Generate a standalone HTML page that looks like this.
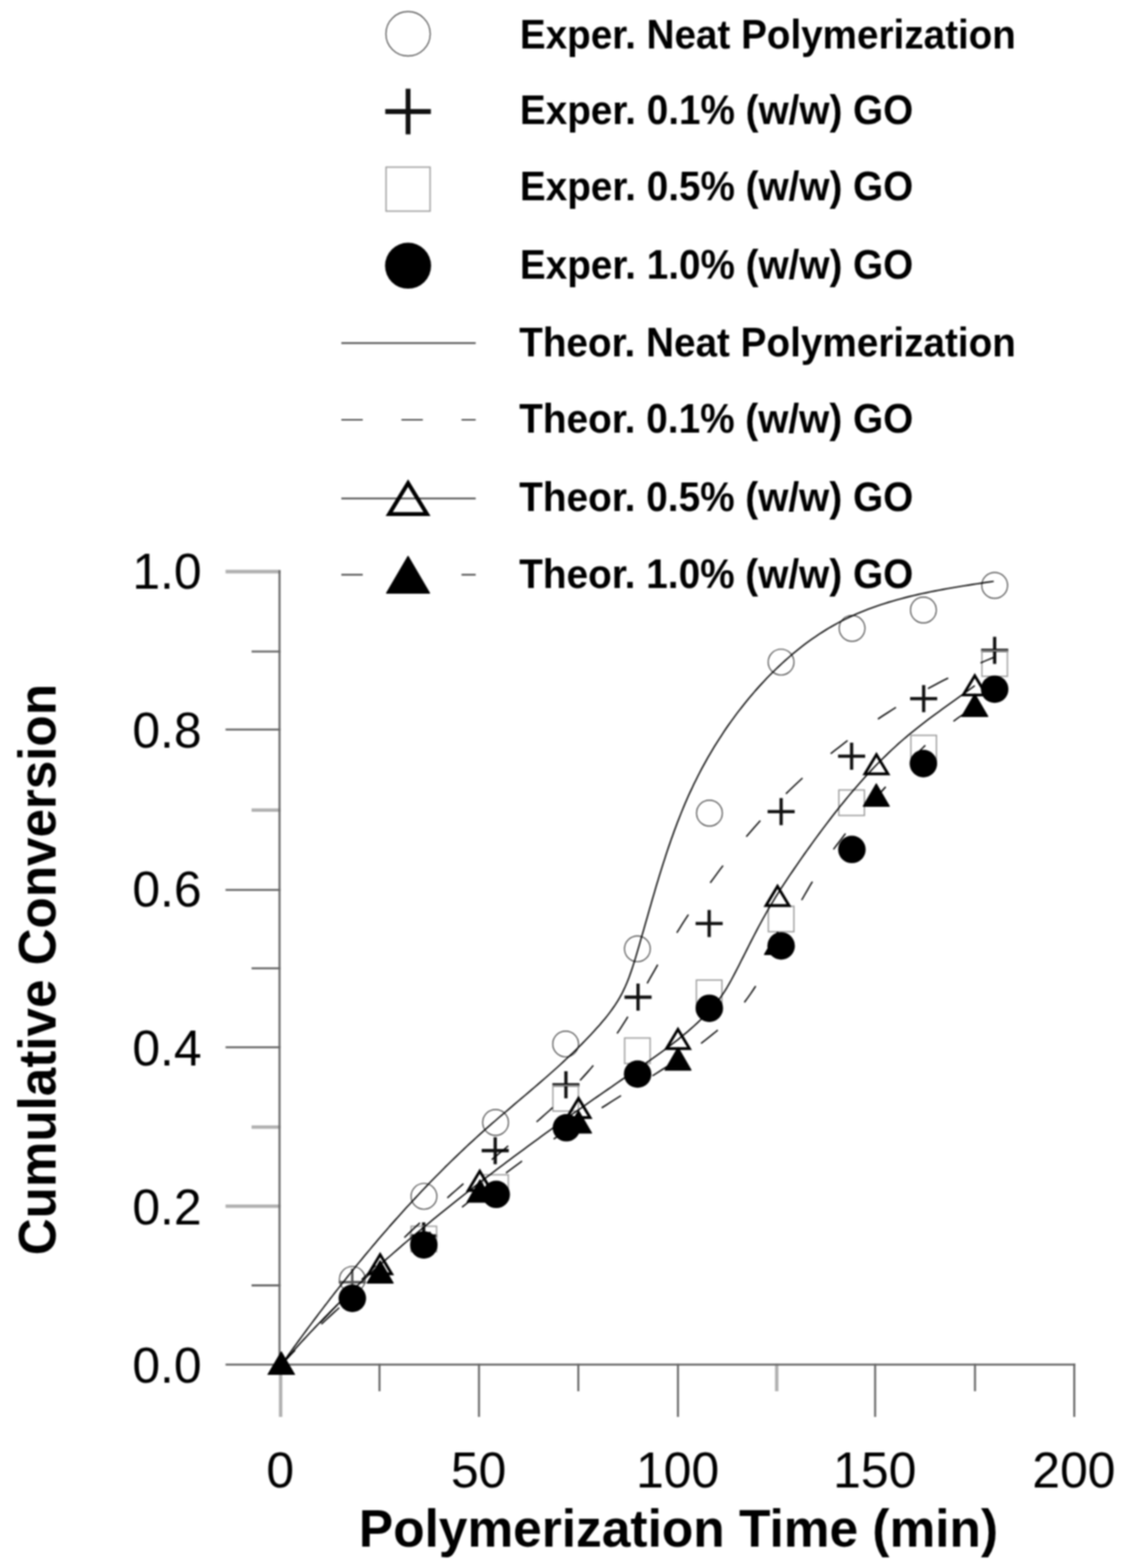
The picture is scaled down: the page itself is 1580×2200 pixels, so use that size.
<!DOCTYPE html>
<html lang="en"><head><meta charset="utf-8"><title>Cumulative Conversion vs Polymerization Time</title>
<style>
html,body{margin:0;padding:0;background:#fff;}
body{width:1580px;height:2200px;overflow:hidden;}
svg{display:block;filter:blur(1px);}
text{font-family:"Liberation Sans",sans-serif;fill:#000;}
.tick{font-size:70px;}
.leg{font-size:58px;font-weight:bold;}
.ttl{font-size:74px;font-weight:bold;}
</style></head><body>
<svg width="1580" height="2200" viewBox="0 0 1580 2200" role="img" aria-label="Cumulative conversion versus polymerization time">
<rect width="1580" height="2200" fill="#fff"/>
<g fill="none" stroke-linecap="butt">
<line x1="353" y1="1803.5" x2="393.6" y2="1803.5" stroke="#666" stroke-width="2.8"/>
<line x1="316.5" y1="1692.3" x2="393.6" y2="1692.3" stroke="#b0b0b0" stroke-width="4.8"/>
<line x1="353" y1="1581.3" x2="393.6" y2="1581.3" stroke="#b0b0b0" stroke-width="4.8"/>
<line x1="316.5" y1="1469.4" x2="393.6" y2="1469.4" stroke="#666" stroke-width="2.8"/>
<line x1="353" y1="1358.7" x2="393.6" y2="1358.7" stroke="#666" stroke-width="2.8"/>
<line x1="316.5" y1="1248.6" x2="393.6" y2="1248.6" stroke="#666" stroke-width="2.8"/>
<line x1="353" y1="1136.6" x2="393.6" y2="1136.6" stroke="#b0b0b0" stroke-width="4.8"/>
<line x1="316.5" y1="1023.6" x2="393.6" y2="1023.6" stroke="#666" stroke-width="2.8"/>
<line x1="353" y1="914.1" x2="393.6" y2="914.1" stroke="#666" stroke-width="2.8"/>
<line x1="316.5" y1="802.0" x2="393.6" y2="802.0" stroke="#b0b0b0" stroke-width="4.8"/>
<line x1="393.8" y1="1913.3" x2="393.8" y2="1988" stroke="#b0b0b0" stroke-width="4.8"/>
<line x1="532.5" y1="1913.3" x2="532.5" y2="1952" stroke="#666" stroke-width="2.8"/>
<line x1="672.1" y1="1913.3" x2="672.1" y2="1988" stroke="#666" stroke-width="2.8"/>
<line x1="811.5" y1="1913.3" x2="811.5" y2="1952" stroke="#666" stroke-width="2.8"/>
<line x1="951.3" y1="1913.3" x2="951.3" y2="1988" stroke="#666" stroke-width="2.8"/>
<line x1="1089.9" y1="1913.3" x2="1089.9" y2="1952" stroke="#b0b0b0" stroke-width="4.8"/>
<line x1="1228.0" y1="1913.3" x2="1228.0" y2="1988" stroke="#666" stroke-width="2.8"/>
<line x1="1368.1" y1="1913.3" x2="1368.1" y2="1952" stroke="#666" stroke-width="2.8"/>
<line x1="1507.4" y1="1913.3" x2="1507.4" y2="1988" stroke="#666" stroke-width="2.8"/>
<line x1="392.2" y1="800.0" x2="392.2" y2="1914.7" stroke="#666" stroke-width="2.8"/>
<line x1="316.5" y1="1914.7" x2="1509" y2="1914.7" stroke="#666" stroke-width="2.8"/>
</g>
<text class="tick" x="283" y="1940.0" text-anchor="end">0.0</text>
<text class="tick" x="283" y="1717.5" text-anchor="end">0.2</text>
<text class="tick" x="283" y="1494.6" text-anchor="end">0.4</text>
<text class="tick" x="283" y="1271.6" text-anchor="end">0.6</text>
<text class="tick" x="283" y="1048.6" text-anchor="end">0.8</text>
<text class="tick" x="283" y="826.0" text-anchor="end">1.0</text>
<text class="tick" x="393.3" y="2087" text-anchor="middle">0</text>
<text class="tick" x="671.6" y="2087" text-anchor="middle">50</text>
<text class="tick" x="950.8" y="2087" text-anchor="middle">100</text>
<text class="tick" x="1227.5" y="2087" text-anchor="middle">150</text>
<text class="tick" x="1506.9" y="2087" text-anchor="middle">200</text>
<text class="ttl" x="503.5" y="2169.6" textLength="897" lengthAdjust="spacingAndGlyphs">Polymerization Time (min)</text>
<text class="ttl" transform="translate(77.5,1360.5) rotate(-90) scale(0.970,1)" text-anchor="middle">Cumulative Conversion</text>
<text class="leg" x="729.5" y="67.8" textLength="696.0" lengthAdjust="spacingAndGlyphs">Exper. Neat Polymerization</text>
<text class="leg" x="729.5" y="174.4" textLength="552.0" lengthAdjust="spacingAndGlyphs">Exper. 0.1% (w/w) GO</text>
<text class="leg" x="729.5" y="281.0" textLength="552.0" lengthAdjust="spacingAndGlyphs">Exper. 0.5% (w/w) GO</text>
<text class="leg" x="729.5" y="391.4" textLength="552.0" lengthAdjust="spacingAndGlyphs">Exper. 1.0% (w/w) GO</text>
<text class="leg" x="728.5" y="500.2" textLength="697.0" lengthAdjust="spacingAndGlyphs">Theor. Neat Polymerization</text>
<text class="leg" x="728.5" y="607.4" textLength="553.0" lengthAdjust="spacingAndGlyphs">Theor. 0.1% (w/w) GO</text>
<text class="leg" x="728.5" y="717.0" textLength="553.0" lengthAdjust="spacingAndGlyphs">Theor. 0.5% (w/w) GO</text>
<text class="leg" x="728.5" y="825.0" textLength="553.0" lengthAdjust="spacingAndGlyphs">Theor. 1.0% (w/w) GO</text>
<circle cx="572.6" cy="47.4" r="31.1" fill="none" stroke="#3c3c3c" stroke-width="1.4"/>
<path d="M540.6 156.5H604.6M572.6 124.5V188.5" stroke="#111" stroke-width="6.8" fill="none"/>
<rect x="541.7" y="234.5" width="61.8" height="61.8" fill="none" stroke="#999" stroke-width="1.8"/>
<circle cx="572.6" cy="372.8" r="32.3" fill="#000"/>
<line x1="479" y1="481.3" x2="667.5" y2="481.3" stroke="#444" stroke-width="2.2"/>
<line x1="479" y1="589.0" x2="667.5" y2="589.0" stroke="#444" stroke-width="2.2" stroke-dasharray="30 54.3"/>
<line x1="479" y1="699.4" x2="667.5" y2="699.4" stroke="#444" stroke-width="2.2"/>
<path d="M572.6 677.8L599.1 721.2H546.1Z" fill="none" stroke="#000" stroke-width="5.6" stroke-linejoin="miter"/>
<path d="M479 806.4H509M647.6 806.4H667.5" stroke="#444" stroke-width="2.2" fill="none"/>
<path d="M572.6 780.6L602.7 832.2H542.5Z" fill="#000" stroke="#000" stroke-width="1.6" stroke-linejoin="round"/>
<circle cx="494.4" cy="1795.0" r="18.1" fill="none" stroke="#3c3c3c" stroke-width="1.4"/>
<circle cx="594.9" cy="1678.5" r="18.1" fill="none" stroke="#3c3c3c" stroke-width="1.4"/>
<circle cx="695.4" cy="1574.9" r="18.1" fill="none" stroke="#3c3c3c" stroke-width="1.4"/>
<circle cx="793.7" cy="1464.8" r="18.1" fill="none" stroke="#3c3c3c" stroke-width="1.4"/>
<circle cx="894.4" cy="1331.3" r="18.1" fill="none" stroke="#3c3c3c" stroke-width="1.4"/>
<circle cx="995.5" cy="1140.9" r="18.1" fill="none" stroke="#3c3c3c" stroke-width="1.4"/>
<circle cx="1096.0" cy="929.0" r="18.1" fill="none" stroke="#3c3c3c" stroke-width="1.4"/>
<circle cx="1195.6" cy="881.6" r="18.1" fill="none" stroke="#3c3c3c" stroke-width="1.4"/>
<circle cx="1295.7" cy="855.9" r="18.1" fill="none" stroke="#3c3c3c" stroke-width="1.4"/>
<circle cx="1395.7" cy="821.4" r="18.1" fill="none" stroke="#3c3c3c" stroke-width="1.4"/>
<path d="M475.3 1799.0H513.3M494.3 1780.0V1818.0" stroke="#555" stroke-width="3.4" fill="none"/>
<path d="M575.5 1734.0H613.5M594.5 1715.0V1753.0" stroke="#111" stroke-width="4.6" fill="none"/>
<path d="M675.9 1614.4H713.9M694.9 1595.4V1633.4" stroke="#111" stroke-width="4.6" fill="none"/>
<path d="M775.1 1522.1H813.1M794.1 1503.1V1541.1" stroke="#111" stroke-width="4.6" fill="none"/>
<path d="M876.3 1399.1H914.3M895.3 1380.1V1418.1" stroke="#111" stroke-width="4.6" fill="none"/>
<path d="M976.1 1295.8H1014.1M995.1 1276.8V1314.8" stroke="#111" stroke-width="4.6" fill="none"/>
<path d="M1077.1 1138.7H1115.1M1096.1 1119.7V1157.7" stroke="#111" stroke-width="4.6" fill="none"/>
<path d="M1176.0 1061.0H1214.0M1195.0 1042.0V1080.0" stroke="#111" stroke-width="4.6" fill="none"/>
<path d="M1277.1 980.3H1315.1M1296.1 961.3V999.3" stroke="#111" stroke-width="4.6" fill="none"/>
<path d="M1376.7 912.5H1414.7M1395.7 893.5V931.5" stroke="#111" stroke-width="4.6" fill="none"/>
<rect x="576.8" y="1720.5" width="35.8" height="35.8" fill="none" stroke="#999" stroke-width="1.8"/>
<rect x="677.5" y="1648.3" width="35.8" height="35.8" fill="none" stroke="#999" stroke-width="1.8"/>
<rect x="775.8" y="1523.1" width="35.8" height="35.8" fill="none" stroke="#999" stroke-width="1.8"/>
<rect x="876.5" y="1456.4" width="35.8" height="35.8" fill="none" stroke="#999" stroke-width="1.8"/>
<rect x="977.2" y="1375.1" width="35.8" height="35.8" fill="none" stroke="#999" stroke-width="1.8"/>
<rect x="1078.2" y="1271.5" width="35.8" height="35.8" fill="none" stroke="#999" stroke-width="1.8"/>
<rect x="1177.1" y="1108.4" width="35.8" height="35.8" fill="none" stroke="#999" stroke-width="1.8"/>
<rect x="1278.2" y="1031.7" width="35.8" height="35.8" fill="none" stroke="#999" stroke-width="1.8"/>
<rect x="1377.8" y="913.1" width="35.8" height="35.8" fill="none" stroke="#999" stroke-width="1.8"/>
<circle cx="494.4" cy="1821.6" r="19.3" fill="#000"/>
<circle cx="594.7" cy="1746.7" r="19.3" fill="#000"/>
<circle cx="696.3" cy="1675.8" r="19.3" fill="#000"/>
<circle cx="794.8" cy="1582.3" r="19.3" fill="#000"/>
<circle cx="894.7" cy="1507.0" r="19.3" fill="#000"/>
<circle cx="995.3" cy="1414.7" r="19.3" fill="#000"/>
<circle cx="1096.1" cy="1327.2" r="19.3" fill="#000"/>
<circle cx="1195.4" cy="1191.8" r="19.3" fill="#000"/>
<circle cx="1295.7" cy="1071.4" r="19.3" fill="#000"/>
<circle cx="1395.7" cy="967.0" r="19.3" fill="#000"/>
<path d="M394.7 1915.0L398.2 1910.1L401.7 1905.2L405.2 1900.3L408.7 1895.5L412.2 1890.6L415.8 1885.7L419.3 1880.9L422.9 1876.0L426.4 1871.2L430.0 1866.4L433.6 1861.5L437.2 1856.7L440.8 1851.9L444.4 1847.1L448.0 1842.3L451.7 1837.5L455.3 1832.7L459.0 1828.0L462.6 1823.2L466.3 1818.5L470.0 1813.7L473.7 1809.0L477.4 1804.3L481.1 1799.5L484.9 1794.8L488.6 1790.1L492.4 1785.5L496.2 1780.8L499.9 1776.1L503.7 1771.5L507.6 1766.8L511.4 1762.2L515.2 1757.6L519.1 1753.0L522.9 1748.4L526.8 1743.8L530.7 1739.2L534.6 1734.6L538.5 1730.1L542.5 1725.6L546.4 1721.0L550.4 1716.5L554.4 1712.0L558.4 1707.6L562.4 1703.1L566.4 1698.6L570.4 1694.2L574.5 1689.8L578.6 1685.4L582.7 1681.0L586.8 1676.6L590.9 1672.2L595.0 1667.9L599.2 1663.5L603.3 1659.2L607.5 1654.9L611.7 1650.6L616.0 1646.3L620.2 1642.1L624.4 1637.8L628.7 1633.6L633.0 1629.4L637.3 1625.2L641.7 1621.0L646.0 1616.9L650.4 1612.8L654.7 1608.6L659.1 1604.5L663.6 1600.5L668.0 1596.4L672.5 1592.3L677.0 1588.3L681.4 1584.3L686.0 1580.3L690.5 1576.3L695.1 1572.4L699.6 1568.4L704.2 1564.5L708.8 1560.6L713.4 1556.7L718.0 1552.8L722.6 1548.8L727.2 1544.9L731.8 1541.0L736.4 1537.1L741.0 1533.2L745.6 1529.3L750.2 1525.4L754.7 1521.5L759.3 1517.5L763.8 1513.6L768.4 1509.6L772.9 1505.6L777.4 1501.6L781.9 1497.6L786.3 1493.6L790.7 1489.5L795.1 1485.4L799.5 1481.3L803.9 1477.1L808.2 1473.0L812.4 1468.8L816.7 1464.5L820.9 1460.2L825.0 1455.9L829.1 1451.6L833.2 1447.2L837.2 1442.7L841.2 1438.3L845.1 1433.7L849.0 1429.1L852.7 1424.5L856.3 1419.7L859.8 1414.9L863.2 1410.0L866.4 1405.1L869.4 1400.0L872.3 1394.8L874.9 1389.5L877.4 1384.2L879.8 1378.7L882.0 1373.2L884.0 1367.6L886.0 1361.9L887.9 1356.2L889.7 1350.5L891.5 1344.8L893.2 1339.0L894.9 1333.2L896.6 1327.4L898.3 1321.6L899.9 1315.8L901.6 1310.0L903.3 1304.2L904.9 1298.4L906.6 1292.5L908.3 1286.7L909.9 1280.9L911.6 1275.1L913.3 1269.3L914.9 1263.5L916.6 1257.7L918.3 1251.9L920.0 1246.1L921.7 1240.3L923.5 1234.5L925.2 1228.8L927.0 1223.0L928.8 1217.2L930.6 1211.5L932.5 1205.8L934.3 1200.0L936.2 1194.3L938.1 1188.6L940.1 1182.9L942.0 1177.3L944.1 1171.6L946.1 1165.9L948.2 1160.3L950.3 1154.7L952.5 1149.1L954.7 1143.5L956.9 1138.0L959.2 1132.4L961.5 1126.9L963.9 1121.4L966.3 1115.9L968.8 1110.5L971.4 1105.1L973.9 1099.7L976.6 1094.3L979.3 1088.9L982.0 1083.6L984.8 1078.3L987.7 1073.0L990.6 1067.8L993.5 1062.5L996.5 1057.4L999.6 1052.2L1002.7 1047.1L1005.9 1042.0L1009.1 1036.9L1012.4 1031.9L1015.7 1026.8L1019.0 1021.9L1022.5 1016.9L1026.0 1012.0L1029.5 1007.2L1033.1 1002.3L1036.7 997.5L1040.4 992.8L1044.1 988.1L1047.9 983.4L1051.8 978.7L1055.7 974.1L1059.6 969.5L1063.6 965.0L1067.7 960.5L1071.8 956.1L1075.9 951.7L1080.1 947.4L1084.4 943.1L1088.7 938.9L1093.1 934.7L1097.5 930.6L1102.0 926.5L1106.5 922.6L1111.0 918.6L1115.7 914.8L1120.3 911.0L1125.0 907.3L1129.8 903.6L1134.6 900.1L1139.5 896.6L1144.4 893.2L1149.4 889.8L1154.4 886.6L1159.5 883.4L1164.6 880.3L1169.8 877.4L1175.0 874.5L1180.3 871.7L1185.6 869.0L1191.0 866.4L1196.4 863.9L1201.8 861.4L1207.3 859.1L1212.9 856.9L1218.4 854.7L1224.1 852.6L1229.7 850.6L1235.4 848.7L1241.1 846.8L1246.8 845.0L1252.6 843.3L1258.4 841.6L1264.2 840.1L1270.1 838.5L1275.9 837.0L1281.8 835.6L1287.7 834.3L1293.6 832.9L1299.5 831.7L1305.5 830.4L1311.4 829.3L1317.4 828.1L1323.3 827.0L1329.3 825.9L1335.2 824.9L1341.2 823.9L1347.1 822.9L1353.1 821.9L1359.0 821.0L1364.9 820.0L1370.9 819.1L1376.8 818.2L1382.7 817.3L1388.5 816.5L1394.4 815.6" fill="none" stroke="#000" stroke-width="1.9" stroke-linejoin="round"/>
<path d="M394.7 1915.0L400.1 1909.1L405.5 1903.1L410.9 1897.2L413.6 1894.2M449.1 1856.1L454.6 1850.3L460.1 1844.5L465.7 1838.7L471.2 1832.9L472.6 1831.4M507.5 1795.5L513.2 1789.8L518.8 1784.1L524.5 1778.4L527.3 1775.6M567.4 1736.4L573.2 1730.8L579.0 1725.3L584.9 1719.8L589.3 1715.7M627.7 1680.7L633.7 1675.3L639.7 1670.1L645.8 1664.8L650.3 1660.8M690.0 1627.1L696.1 1622.0L702.3 1616.8L708.4 1611.7L713.1 1607.8M752.9 1574.1L759.0 1568.8L765.0 1563.4L771.0 1558.1L775.4 1554.0M813.9 1515.9L819.3 1510.0L824.7 1504.0L829.9 1498.0L832.5 1494.9M865.9 1450.1L870.3 1443.4L874.6 1436.7L878.9 1429.9L881.0 1426.5M908.1 1379.7L912.0 1372.7L916.0 1365.7L920.0 1358.7L922.9 1353.5M949.7 1308.7L954.0 1301.9L958.3 1295.1L962.7 1288.3L966.0 1283.3M996.6 1238.6L1001.4 1232.2L1006.1 1225.7L1010.9 1219.3L1014.6 1214.5M1047.2 1173.9L1052.4 1167.8L1057.6 1161.8L1062.9 1155.8L1066.9 1151.3M1102.8 1113.7L1108.6 1108.1L1114.3 1102.6L1120.2 1097.1L1126.1 1091.6M1165.6 1057.6L1171.9 1052.6L1178.2 1047.7L1184.5 1042.7L1189.3 1039.1M1231.9 1008.9L1238.6 1004.4L1245.3 1000.1L1252.1 995.7L1257.2 992.5M1302.1 966.2L1309.2 962.4L1316.2 958.6L1323.3 954.9L1330.5 951.3M1375.9 930.1L1383.2 927.0L1390.7 923.9L1394.4 922.4" fill="none" stroke="#000" stroke-width="1.9" stroke-linejoin="round"/>
<path d="M394.7 1915.0L398.6 1910.4L402.5 1905.9L406.5 1901.4L410.5 1896.9L414.5 1892.4L418.5 1887.9L422.5 1883.4L426.6 1879.0L430.7 1874.6L434.8 1870.2L438.9 1865.8L443.0 1861.5L447.2 1857.2L451.4 1852.8L455.6 1848.5L459.8 1844.3L464.0 1840.0L468.3 1835.8L472.5 1831.5L476.8 1827.3L481.1 1823.1L485.4 1818.9L489.8 1814.8L494.1 1810.6L498.5 1806.5L502.9 1802.4L507.3 1798.3L511.7 1794.2L516.1 1790.1L520.6 1786.1L525.0 1782.0L529.5 1778.0L533.9 1774.0L538.4 1770.0L542.9 1766.0L547.5 1762.1L552.0 1758.1L556.5 1754.2L561.1 1750.2L565.6 1746.3L570.2 1742.4L574.8 1738.5L579.4 1734.6L584.0 1730.8L588.6 1726.9L593.2 1723.1L597.8 1719.2L602.5 1715.4L607.1 1711.6L611.8 1707.8L616.4 1704.0L621.1 1700.2L625.8 1696.5L630.5 1692.7L635.1 1689.0L639.8 1685.2L644.5 1681.5L649.3 1677.8L654.0 1674.1L658.7 1670.4L663.4 1666.7L668.2 1663.0L672.9 1659.3L677.7 1655.7L682.4 1652.0L687.2 1648.4L692.0 1644.7L696.8 1641.1L701.5 1637.5L706.3 1633.9L711.1 1630.3L715.9 1626.7L720.8 1623.1L725.6 1619.5L730.4 1615.9L735.2 1612.4L740.1 1608.8L744.9 1605.2L749.7 1601.7L754.6 1598.2L759.5 1594.6L764.3 1591.1L769.2 1587.6L774.1 1584.1L778.9 1580.6L783.8 1577.1L788.7 1573.6L793.6 1570.1L798.5 1566.6L803.4 1563.1L808.3 1559.6L813.2 1556.2L818.2 1552.7L823.1 1549.2L828.0 1545.8L832.9 1542.3L837.9 1538.9L842.8 1535.5L847.8 1532.0L852.7 1528.6L857.7 1525.2L862.6 1521.7L867.6 1518.3L872.5 1514.9L877.5 1511.5L882.5 1508.1L887.5 1504.6L892.4 1501.2L897.4 1497.8L902.4 1494.4L907.3 1490.9L912.3 1487.5L917.2 1484.0L922.1 1480.5L927.0 1477.0L931.8 1473.4L936.6 1469.9L941.4 1466.2L946.2 1462.6L950.9 1458.9L955.5 1455.1L960.2 1451.3L964.8 1447.5L969.3 1443.5L973.7 1439.6L978.2 1435.5L982.5 1431.4L986.8 1427.3L991.0 1423.0L995.1 1418.7L999.1 1414.2L1003.0 1409.7L1006.8 1405.1L1010.4 1400.3L1013.8 1395.4L1017.1 1390.5L1020.2 1385.4L1023.2 1380.2L1026.2 1374.9L1029.0 1369.6L1031.8 1364.3L1034.6 1358.9L1037.3 1353.6L1040.0 1348.2L1042.8 1342.8L1045.5 1337.4L1048.2 1332.0L1050.9 1326.6L1053.6 1321.3L1056.4 1315.9L1059.1 1310.6L1061.9 1305.2L1064.7 1299.9L1067.6 1294.6L1070.4 1289.4L1073.4 1284.1L1076.3 1278.9L1079.3 1273.7L1082.4 1268.5L1085.5 1263.4L1088.6 1258.3L1091.8 1253.2L1095.0 1248.1L1098.3 1243.1L1101.6 1238.0L1104.9 1233.0L1108.2 1228.0L1111.6 1223.1L1115.0 1218.1L1118.4 1213.2L1121.8 1208.2L1125.3 1203.3L1128.7 1198.4L1132.2 1193.5L1135.7 1188.6L1139.2 1183.7L1142.8 1178.8L1146.3 1174.0L1149.9 1169.1L1153.5 1164.3L1157.1 1159.5L1160.7 1154.7L1164.4 1149.9L1168.0 1145.1L1171.7 1140.4L1175.5 1135.6L1179.2 1130.9L1183.0 1126.3L1186.8 1121.6L1190.6 1117.0L1194.5 1112.4L1198.3 1107.8L1202.3 1103.3L1206.2 1098.8L1210.2 1094.3L1214.2 1089.8L1218.3 1085.4L1222.4 1081.0L1226.5 1076.7L1230.6 1072.4L1234.9 1068.1L1239.1 1063.9L1243.4 1059.7L1247.7 1055.5L1252.1 1051.4L1256.5 1047.4L1260.9 1043.3L1265.4 1039.4L1270.0 1035.4L1274.6 1031.6L1279.2 1027.7L1283.9 1023.9L1288.6 1020.2L1293.4 1016.5L1298.2 1012.8L1303.0 1009.1L1307.8 1005.5L1312.6 1001.9L1317.5 998.4L1322.4 994.8L1327.3 991.3L1332.2 987.8L1337.1 984.2L1342.0 980.7L1346.8 977.2L1351.7 973.7L1356.6 970.2L1361.4 966.7L1366.2 963.2L1367.8 962.0" fill="none" stroke="#000" stroke-width="1.9" stroke-linejoin="round"/>
<path d="M394.7 1900.0L410.9 1927.0H378.5Z" fill="none" stroke="#000" stroke-width="3.9" stroke-linejoin="miter"/>
<path d="M533.4 1760.3L549.6 1787.3H517.2Z" fill="none" stroke="#000" stroke-width="3.9" stroke-linejoin="miter"/>
<path d="M673.2 1643.2L689.4 1670.2H657.0Z" fill="none" stroke="#000" stroke-width="3.9" stroke-linejoin="miter"/>
<path d="M811.8 1541.0L828.0 1568.0H795.6Z" fill="none" stroke="#000" stroke-width="3.9" stroke-linejoin="miter"/>
<path d="M951.3 1444.2L967.5 1471.2H935.1Z" fill="none" stroke="#000" stroke-width="3.9" stroke-linejoin="miter"/>
<path d="M1091.0 1243.5L1107.2 1270.5H1074.8Z" fill="none" stroke="#000" stroke-width="3.9" stroke-linejoin="miter"/>
<path d="M1229.8 1058.7L1246.0 1085.8H1213.6Z" fill="none" stroke="#000" stroke-width="3.9" stroke-linejoin="miter"/>
<path d="M1367.8 948.1L1384.0 975.1H1351.6Z" fill="none" stroke="#000" stroke-width="3.9" stroke-linejoin="miter"/>
<path d="M394.7 1915.0L400.1 1909.1L405.6 1903.2L411.2 1897.4L414.0 1894.5M451.0 1857.9L456.9 1852.4L462.7 1847.0L468.6 1841.5L474.6 1836.1L476.0 1834.8M515.3 1800.5L521.4 1795.3L527.6 1790.2L533.7 1785.1L536.8 1782.5M582.1 1745.9L588.3 1740.9L594.6 1735.9L600.9 1730.9L604.1 1728.4M648.3 1693.7L654.6 1688.7L660.9 1683.8L667.2 1678.8L671.9 1675.1M710.0 1645.8L716.4 1641.0L722.8 1636.2L729.3 1631.5L732.5 1629.1M776.9 1598.1L783.6 1593.7L790.3 1589.2L797.0 1584.8L800.4 1582.6M844.3 1554.4L851.1 1550.1L857.8 1545.8L864.6 1541.5L871.4 1537.3M915.5 1509.5L922.2 1505.2L928.9 1500.9L935.7 1496.6L939.0 1494.4M983.7 1463.9L990.1 1459.1L996.4 1454.1L1002.6 1449.1L1007.2 1445.2M1044.5 1406.4L1049.2 1400.0L1053.8 1393.5L1058.2 1386.9L1060.4 1383.5M1087.5 1334.2L1091.1 1327.0L1094.8 1319.8L1098.5 1312.6L1099.4 1310.9M1124.9 1262.9L1128.9 1255.9L1132.9 1249.0L1136.9 1242.1L1140.0 1236.9M1169.5 1191.8L1174.3 1185.4L1179.1 1179.0L1184.0 1172.6L1186.4 1169.5M1222.6 1126.5L1228.0 1120.5L1233.4 1114.5L1238.7 1108.5L1242.8 1104.0M1278.4 1065.6L1284.1 1059.8L1289.7 1054.2L1295.5 1048.6L1298.4 1045.8M1337.9 1012.1L1344.3 1007.3L1350.9 1002.8L1352.5 1001.6" fill="none" stroke="#000" stroke-width="1.9" stroke-linejoin="round"/>
<path d="M394.7 1896.8L412.9 1928.2H376.5Z" fill="#000" stroke="#000" stroke-width="1.6" stroke-linejoin="round"/>
<path d="M533.4 1768.8L551.6 1800.2H515.2Z" fill="#000" stroke="#000" stroke-width="1.6" stroke-linejoin="round"/>
<path d="M673.5 1655.4L691.7 1686.8H655.3Z" fill="#000" stroke="#000" stroke-width="1.6" stroke-linejoin="round"/>
<path d="M811.8 1558.3L830.0 1589.7H793.6Z" fill="#000" stroke="#000" stroke-width="1.6" stroke-linejoin="round"/>
<path d="M951.4 1470.0L969.6 1501.4H933.2Z" fill="#000" stroke="#000" stroke-width="1.6" stroke-linejoin="round"/>
<path d="M1091.0 1307.8L1109.2 1339.2H1072.8Z" fill="#000" stroke="#000" stroke-width="1.6" stroke-linejoin="round"/>
<path d="M1229.6 1099.8L1247.8 1131.2H1211.4Z" fill="#000" stroke="#000" stroke-width="1.6" stroke-linejoin="round"/>
<path d="M1367.8 973.8L1386.0 1005.2H1349.6Z" fill="#000" stroke="#000" stroke-width="1.6" stroke-linejoin="round"/>
</svg></body></html>
